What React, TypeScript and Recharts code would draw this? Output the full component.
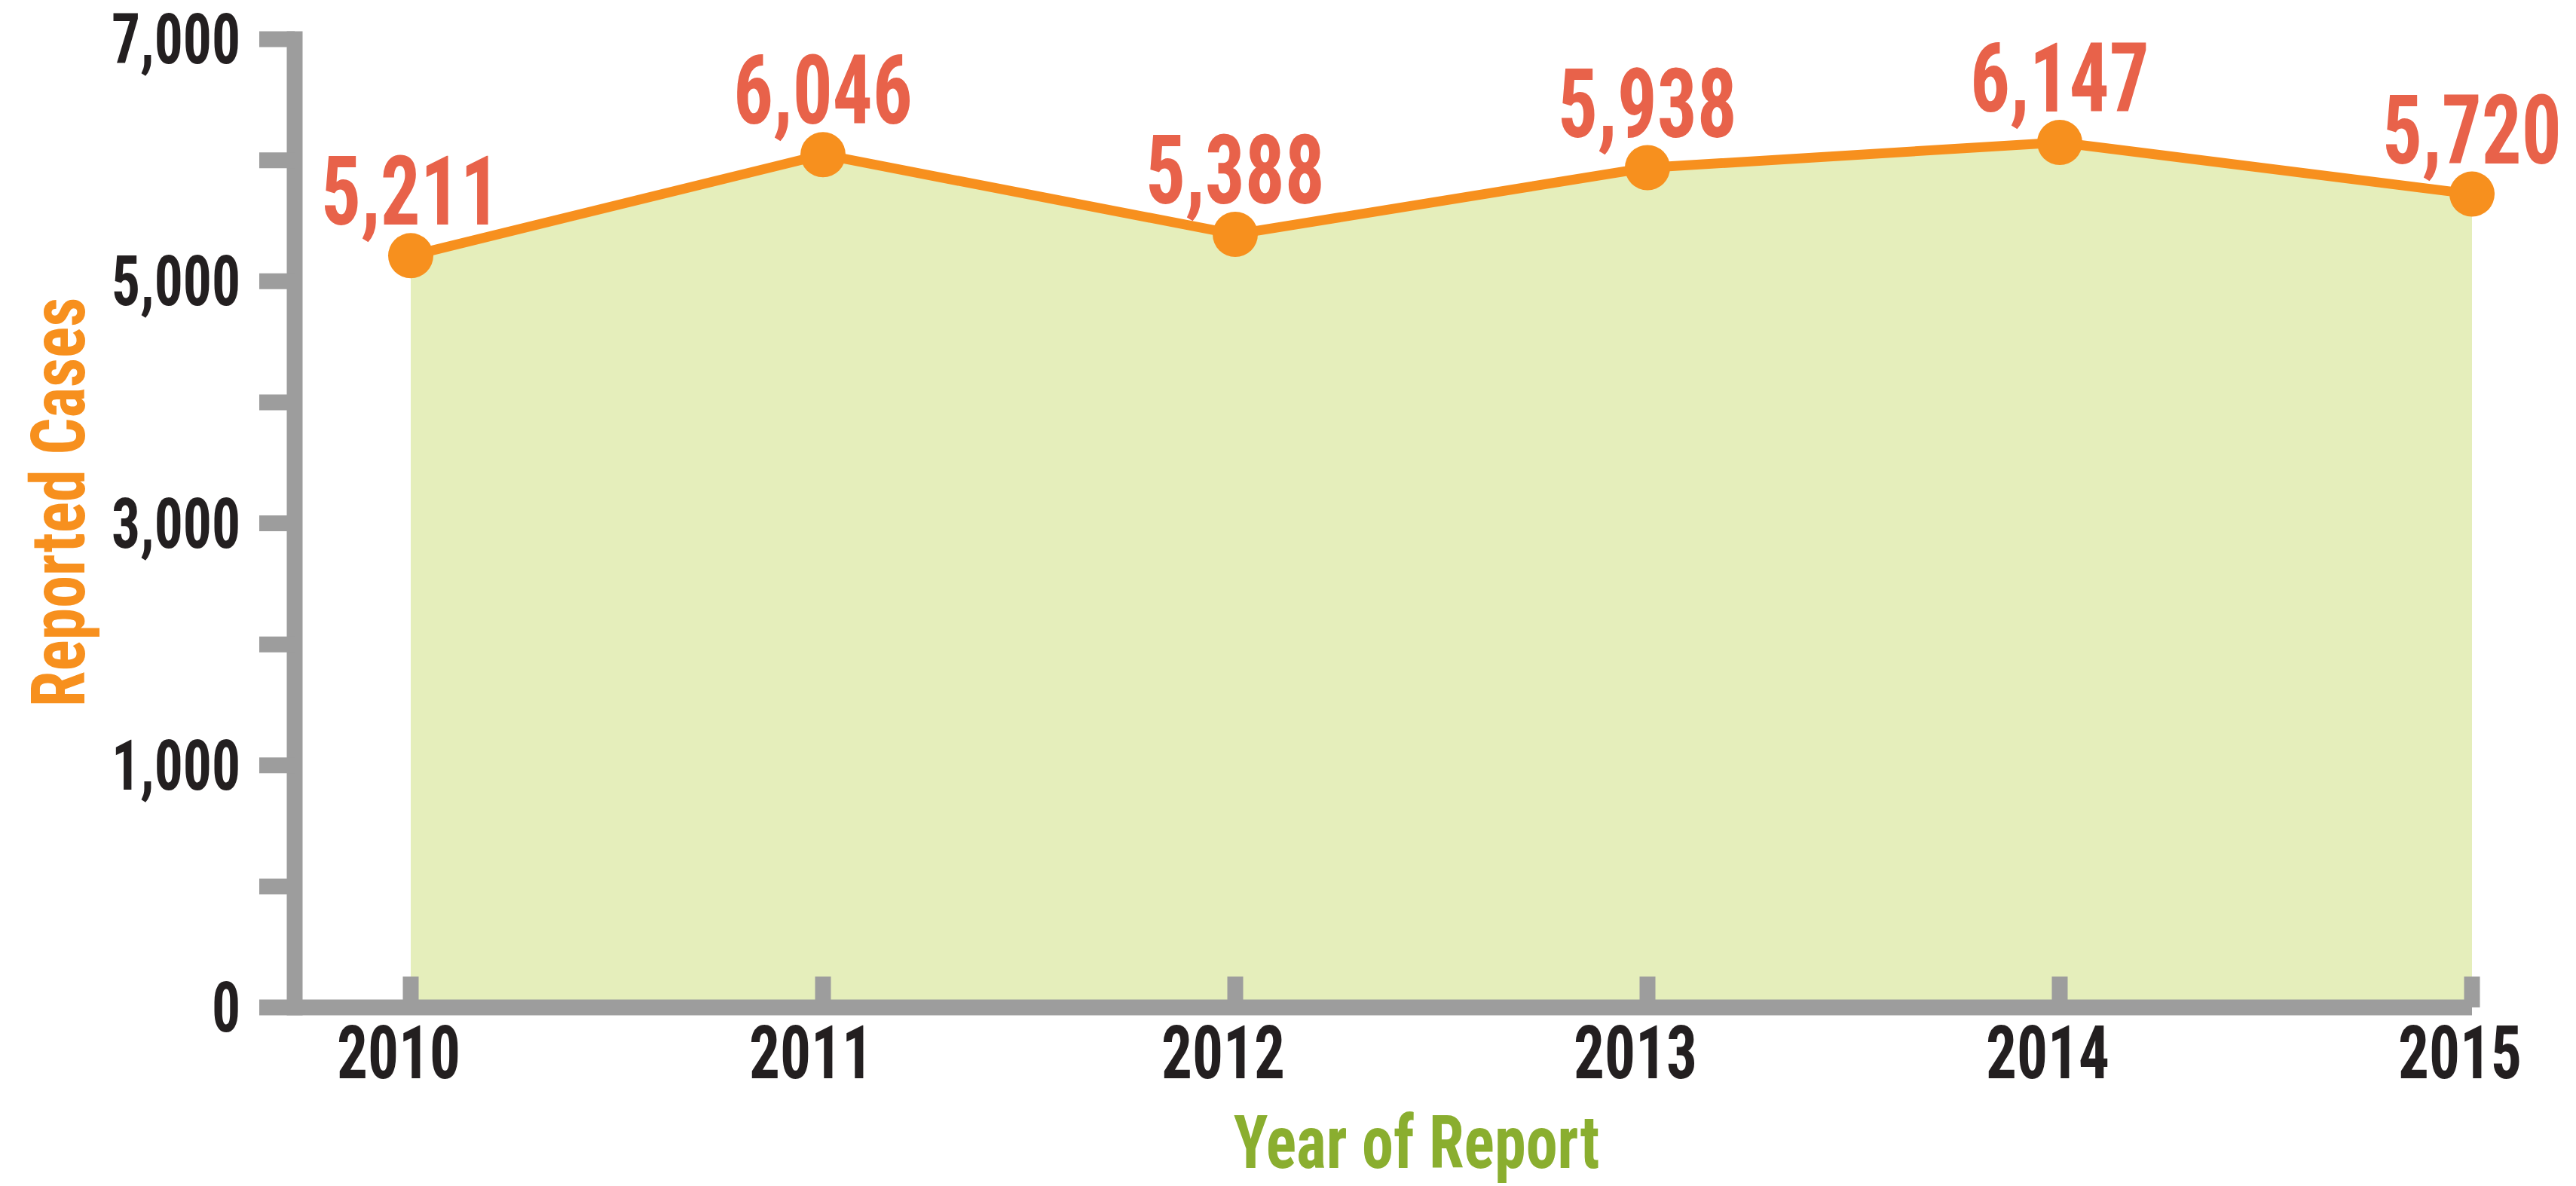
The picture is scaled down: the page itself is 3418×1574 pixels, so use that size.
import React from "react";
import { AreaChart, Area, XAxis, YAxis, LabelList } from "recharts";

// ── Data ─────────────────────────────────────────────────────────────────────

const years = ["2010", "2011", "2012", "2013", "2014", "2015"];
const reportedCases = [5211, 6046, 5388, 5938, 6147, 5720];

// the axis is drawn with a break: its bottom tick is labelled "0"
const yTickValues = [-1000, 0, 1000, 2000, 3000, 4000, 5000, 6000, 7000];
const yTickText = ["0", "", "1,000", "", "3,000", "", "5,000", "", "7,000"];

const data = years.map((year, i) => ({ year, cases: reportedCases[i] }));

// ── Styles ───────────────────────────────────────────────────────────────────

const FONT = "'Roboto Condensed', Roboto, 'Open Sans', sans-serif";
const AXIS_GREY = "#9d9d9d";
const INK = "#231f20";
const ORANGE = "#f7901e";
const LABEL_RED = "#e8624a";
const FILL = "#e5eebb";
const TITLE_GREEN = "#8aae2f";

// the reference face is narrower than anything installed
const NUM_SX = 0.82;
const TITLE_SX = 0.86;

const W = 3418;
const H = 1574;

// text squeezed horizontally around its anchor point
function Narrow({ x, y, sx, rotate = 0, children, ...rest }: any) {
  return (
    <text
      x={0}
      y={0}
      transform={`translate(${x} ${y}) rotate(${rotate}) scale(${sx} 1)`}
      fontFamily={FONT}
      fontWeight={700}
      {...rest}
    >
      {children}
    </text>
  );
}

function YTitle({ viewBox }: any) {
  const x = (viewBox?.x ?? 0) + 112;
  const y = (viewBox?.y ?? 0) + (viewBox?.height ?? 0) / 2 - 28;
  return (
    <Narrow x={x} y={y} sx={TITLE_SX} rotate={-90} textAnchor="middle" fill={ORANGE} fontSize={100}>
      Reported Cases
    </Narrow>
  );
}

function XTitle({ viewBox }: any) {
  const x = (viewBox?.x ?? 0) + (viewBox?.width ?? 0) / 2 + 44;
  const y = (viewBox?.y ?? 0) + 213;
  return (
    <Narrow x={x} y={y} sx={TITLE_SX} textAnchor="middle" fill={TITLE_GREEN} fontSize={98}>
      Year of Report
    </Narrow>
  );
}

function XTick({ x, y, payload }: any) {
  return (
    <Narrow x={x - 16} y={y + 70} sx={NUM_SX} textAnchor="middle" fill={INK} fontSize={99}>
      {payload.value}
    </Narrow>
  );
}

function YTick({ x, y, payload }: any) {
  const text = yTickText[yTickValues.indexOf(payload.value)] ?? "";
  return (
    <Narrow x={x} y={y + 32} sx={NUM_SX} textAnchor="end" fill={INK} fontSize={92}>
      {text}
    </Narrow>
  );
}

function ValueLabel({ x, y, value }: any) {
  return (
    <Narrow x={x} y={y - 41} sx={NUM_SX} textAnchor="middle" fill={LABEL_RED} fontSize={128}>
      {Number(value).toLocaleString("en-US")}
    </Narrow>
  );
}

export default function App() {
  return (
    <div
      style={{
        position: "absolute",
        left: 0,
        top: 0,
        width: W,
        height: H,
        background: "#ffffff",
        overflow: "hidden",
      }}
    >
      <AreaChart
        width={W}
        height={H}
        data={data}
        margin={{ top: 52, right: 138, bottom: 0, left: 0 }}
      >
        <Area
          type="linear"
          dataKey="cases"
          baseValue="dataMin"
          stroke={ORANGE}
          strokeWidth={13}
          fill={FILL}
          fillOpacity={1}
          dot={{ r: 30, fill: ORANGE, stroke: ORANGE, strokeWidth: 0 }}
          activeDot={false}
          isAnimationActive={false}
        >
          <LabelList dataKey="cases" content={<ValueLabel />} />
        </Area>
        <XAxis
          dataKey="year"
          height={237}
          padding={{ left: 154, right: 0 }}
          axisLine={{ stroke: AXIS_GREY, strokeWidth: 21 }}
          tickLine={{ stroke: AXIS_GREY, strokeWidth: 21 }}
          tickSize={-41}
          tickMargin={65}
          interval={0}
          tick={<XTick />}
          label={<XTitle />}
        />
        <YAxis
          type="number"
          width={391}
          domain={[-1000, 7000]}
          ticks={yTickValues}
          interval={0}
          axisLine={{ stroke: AXIS_GREY, strokeWidth: 21, strokeLinecap: "square" }}
          tickLine={{ stroke: AXIS_GREY, strokeWidth: 21 }}
          tickSize={47}
          tickMargin={25}
          tick={<YTick />}
          label={<YTitle />}
        />
      </AreaChart>
    </div>
  );
}
